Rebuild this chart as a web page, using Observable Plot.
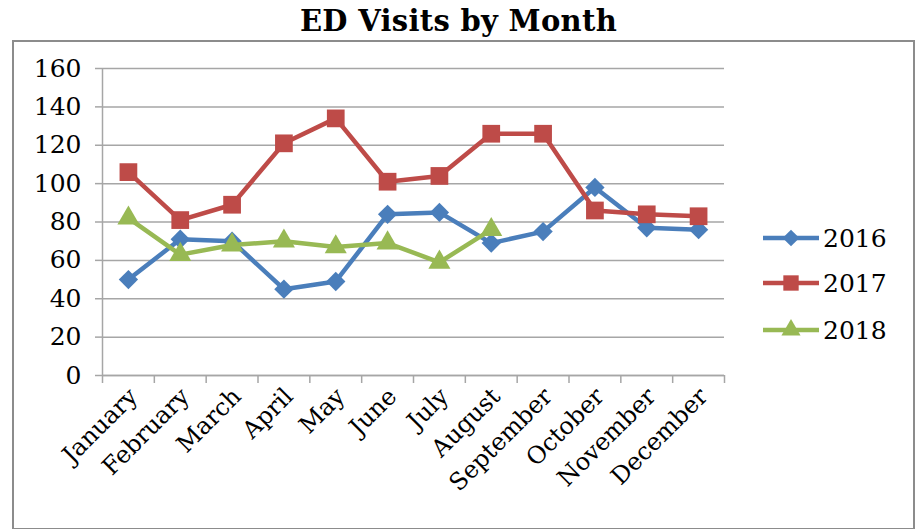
<!DOCTYPE html>
<html><head><meta charset="utf-8">
<script src="https://cdn.jsdelivr.net/npm/d3@7"></script>
<script src="https://cdn.jsdelivr.net/npm/@observablehq/plot@0.6"></script>
<style>
body{margin:0;background:#fff;width:917px;height:529px;position:relative;overflow:hidden;font-family:"DejaVu Serif",serif;}
#title{position:absolute;left:0;top:0;width:917px;height:40px;text-align:center;font-weight:bold;font-size:29px;font-family:"DejaVu Serif",serif;line-height:42px;color:#000;letter-spacing:0.3px;}
#frame{position:absolute;left:12px;top:40px;width:899px;height:486px;border:2px solid #8c8c8c;}
#chart{position:absolute;left:0;top:40px;}
.leg{position:absolute;left:763px;height:30px;display:flex;align-items:center;font-size:25px;font-family:"DejaVu Serif",serif;color:#000;}
.leg svg{display:block;margin-right:4px;}
</style>
</head><body>
<div id="title">ED Visits by Month</div>
<div id="frame"></div>
<div id="chart"></div>
<div id="legend"></div>
<script>
const months = ["January","February","March","April","May","June","July","August","September","October","November","December"];
const v2016 = [50, 71, 70, 45, 49, 84, 85, 69, 75, 98, 77, 76];
const v2017 = [106, 81, 89, 121, 134, 101, 104, 126, 126, 86, 84, 83];
const v2018 = [82, 63, 68, 70, 67, 69, 59, 76];
const years = ["2016", "2017", "2018"];
const colors = ["#4a7ebb", "#be4b48", "#98b954"];
const symbols = ["diamond2", "square", "triangle"];
const radii = [8.7, 10, 8.2];
const yTicks = [0, 20, 40, 60, 80, 100, 120, 140, 160];

const valuesByYear = [v2016, v2017, v2018];
const data = valuesByYear.flatMap((vals, k) => vals.map((v, i) => ({i, month: months[i], year: years[k], value: v})));

const marks = [
  Plot.gridY(yTicks, {stroke: "#a6a6a6", strokeOpacity: 1, strokeWidth: 1.5}),
  Plot.ruleY([0], {stroke: "#a6a6a6", strokeWidth: 1.5}),
  Plot.ruleX([-0.5], {stroke: "#a6a6a6", strokeWidth: 1.5}),
  Plot.axisY({ticks: yTicks, tickSize: 7, tickPadding: 14, fontSize: 25, stroke: "#a6a6a6", strokeWidth: 1.5, fill: "#000", label: null}),
  Plot.axisX({ticks: d3.range(-0.5, 12, 1), tickSize: 8, tickFormat: () => "", stroke: "#a6a6a6", strokeWidth: 1.5, label: null}),
  Plot.axisX({ticks: d3.range(0, 12), tickSize: 0, tickPadding: 17, dx: 5, tickRotate: -45, tickFormat: i => months[i], fontSize: 24, fill: "#000", label: null})
];
years.forEach((yr, k) => {
  const d = data.filter(r => r.year === yr);
  marks.push(Plot.line(d, {x: "i", y: "value", stroke: colors[k], strokeWidth: 4.5}));
  marks.push(Plot.dot(d, {x: "i", y: "value", symbol: () => symbols[k], r: radii[k], fill: colors[k], stroke: "none"}));
});

const chart = Plot.plot({
  width: 917,
  height: 489,
  marginLeft: 102,
  marginRight: 193,
  marginTop: 28,
  marginBottom: 154,
  style: {fontFamily: "DejaVu Serif, serif", background: "transparent", overflow: "visible"},
  x: {domain: [-0.5, 11.5], axis: null},
  y: {domain: [0, 160], axis: null},
  symbol: {type: "identity"},
  marks
});
document.getElementById("chart").appendChild(chart);

const legend = document.getElementById("legend");
const legTops = [223, 268, 315];
years.forEach((yr, k) => {
  const row = document.createElement("div");
  row.className = "leg";
  row.style.top = legTops[k] + "px";
  const sym = d3.symbol(d3["symbol" + (symbols[k] === "diamond2" ? "Diamond2" : symbols[k] === "square" ? "Square" : "Triangle")], Math.PI * radii[k] * radii[k] * 0.75)();
  row.innerHTML = `<svg width="56" height="30"><line x1="0" x2="56" y1="15" y2="15" stroke="${colors[k]}" stroke-width="4.5"/><path transform="translate(28,15)" d="${sym}" fill="${colors[k]}"/></svg><span>${yr}</span>`;
  legend.appendChild(row);
});
</script>
</body></html>
